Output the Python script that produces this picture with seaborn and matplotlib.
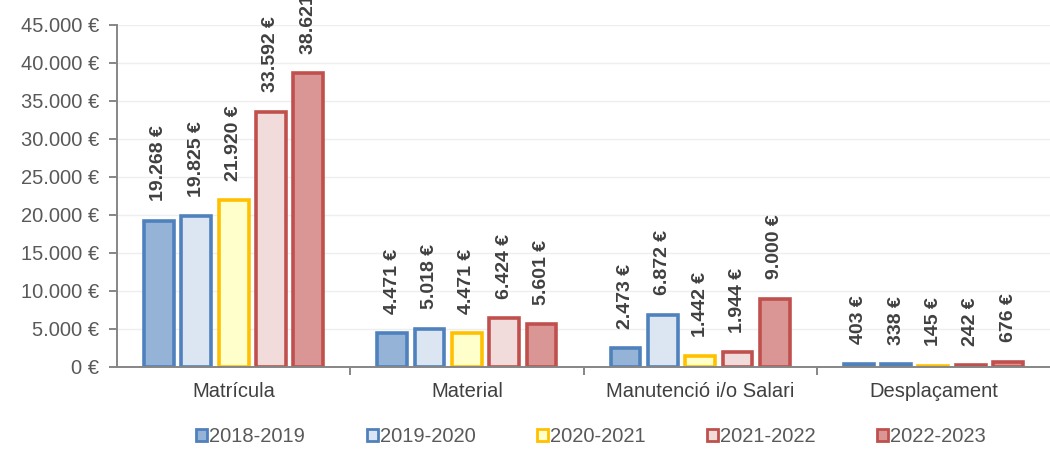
import pandas as pd
import seaborn as sns
import matplotlib.pyplot as plt
from matplotlib.ticker import FuncFormatter, FixedLocator

# ----- Data ----- #
categories = ["Matrícula", "Material", "Manutenció i/o Salari", "Desplaçament"]
years = ["2018-2019", "2019-2020", "2020-2021", "2021-2022", "2022-2023"]
values = {
    "2018-2019": [19268, 4471, 2473, 403],
    "2019-2020": [19825, 5018, 6872, 338],
    "2020-2021": [21920, 4471, 1442, 145],
    "2021-2022": [33592, 6424, 1944, 242],
    "2022-2023": [38621, 5601, 9000, 676],
}
fill_colors = ["#95B3D7", "#DCE6F2", "#FFFFCC", "#F2DCDB", "#D99694"]
edge_colors = ["#4F81BD", "#4F81BD", "#FFC000", "#C0504D", "#C0504D"]

rows = []
for y in years:
    for c, v in zip(categories, values[y]):
        rows.append({"Categoria": c, "Curs": y, "Import": v})
df = pd.DataFrame(rows)


def euro(v):
    return f"{int(round(v)):,}".replace(",", ".") + " €"


sns.set_style("white")
plt.rcParams["font.family"] = ["Liberation Sans", "DejaVu Sans"]

fig = plt.figure(figsize=(10.5, 4.5), dpi=100)
ax = fig.add_axes([117 / 1050, 1 - 367 / 450, 1 - 117 / 1050, (367 - 25) / 450])

sns.barplot(data=df, x="Categoria", y="Import", hue="Curs", order=categories, hue_order=years,
            palette=fill_colors, saturation=1, width=0.8, gap=0.2, ax=ax, legend=False)

for i, cont in enumerate(ax.containers):
    for bar in cont:
        bar.set_edgecolor(edge_colors[i])
        bar.set_linewidth(2.6)
    ax.bar_label(cont, labels=[euro(v) for v in cont.datavalues], rotation=90, padding=14,
                 fontsize=14, fontweight="bold", color="#404040")

ax.set_ylim(0, 45000)
ax.set_xlim(-0.5, 3.5)
ax.set_yticks(range(0, 45001, 5000))
ax.yaxis.set_major_formatter(FuncFormatter(lambda v, p: euro(v)))
ax.grid(axis="y", color="#EEEEEE", linewidth=1)
ax.set_axisbelow(True)

for s in ["top", "right"]:
    ax.spines[s].set_visible(False)
for s in ["left", "bottom"]:
    ax.spines[s].set_color("#868686")
    ax.spines[s].set_linewidth(1.4)

ax.tick_params(axis="y", left=True, length=6, width=1.4, color="#868686", labelsize=14.5,
               labelcolor="#595959", pad=7)
ax.tick_params(axis="x", which="major", length=0, labelsize=14.5, labelcolor="#404040", pad=11)
ax.xaxis.set_minor_locator(FixedLocator([0.5, 1.5, 2.5]))
ax.tick_params(axis="x", which="minor", bottom=True, length=6, width=1.4, color="#868686")
ax.set_xlabel("")
ax.set_ylabel("")

handles = [plt.Rectangle((0, 0), 1, 1, facecolor=f, edgecolor=e, linewidth=2)
           for f, e in zip(fill_colors, edge_colors)]
fig.legend(handles, years, loc="center", bbox_to_anchor=(0.563, 1 - 437 / 450), ncol=5,
           frameon=False, fontsize=14.5, handlelength=0.55, handleheight=0.55, handletextpad=0.1,
           columnspacing=3.05, labelcolor="#595959")

fig.savefig("out.png", dpi=100)
